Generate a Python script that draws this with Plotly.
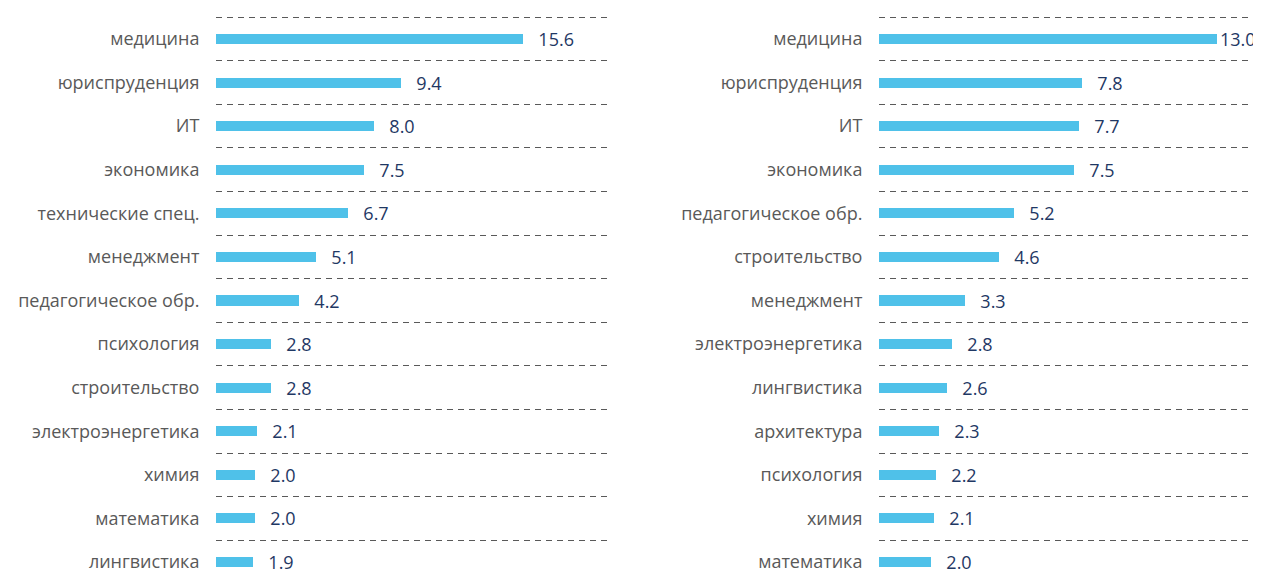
import plotly.graph_objects as go

left_categories = ["медицина", "юриспруденция", "ИТ", "экономика", "технические спец.",
                   "менеджмент", "педагогическое обр.", "психология", "строительство",
                   "электроэнергетика", "химия", "математика", "лингвистика"]
left_values = [15.6, 9.4, 8.0, 7.5, 6.7, 5.1, 4.2, 2.8, 2.8, 2.1, 2.0, 2.0, 1.9]

right_categories = ["медицина", "юриспруденция", "ИТ", "экономика", "педагогическое обр.",
                    "строительство", "менеджмент", "электроэнергетика", "лингвистика",
                    "архитектура", "психология", "химия", "математика"]
right_values = [13.0, 7.8, 7.7, 7.5, 5.2, 4.6, 3.3, 2.8, 2.6, 2.3, 2.2, 2.1, 2.0]

BAR = "#4FC1E9"
LABEL = "#595959"
VALUE = "#1F3864"
FONT = "Open Sans"

W, H = 1253, 571

fig = go.Figure()

for vals, xa, ya, xmax in [(left_values, "x", "y", 20), (right_values, "x2", "y2", 14.58)]:
    pos = list(range(len(vals)))
    # narrower gap when the label would run past the edge of the panel
    texts = [("" if v > 0.85 * xmax else "  \u2009") + f"{v:.1f}" for v in vals]
    fig.add_trace(go.Bar(
        x=vals, y=pos, orientation="h", xaxis=xa, yaxis=ya,
        marker=dict(color=BAR, line=dict(width=0)),
        width=0.23,
        text=texts,
        textposition="outside", cliponaxis=False, constraintext="none",
        textfont=dict(family=FONT, size=18, color=VALUE),
        hoverinfo="skip",
    ))

def yaxis_cfg(cats):
    return dict(
        range=[12.39, -0.711], tickmode="array",
        tickvals=list(range(len(cats))), ticktext=cats,
        showgrid=False, zeroline=False, showline=False,
        ticks="outside", ticklen=12, tickcolor="rgba(0,0,0,0)",
        tickfont=dict(family=FONT, size=18, color=LABEL),
        minor=dict(tick0=0.5, dtick=1, showgrid=True, gridcolor="#595959",
                   griddash="6px,5px", gridwidth=1, ticks=""),
        fixedrange=True,
    )

fig.update_layout(
    width=W, height=H,
    margin=dict(l=0, r=0, t=0, b=0),
    paper_bgcolor="white", plot_bgcolor="white",
    showlegend=False,
    bargap=0,
    xaxis=dict(domain=[208/W, 602/W], range=[0, 20], visible=False, fixedrange=True),
    xaxis2=dict(domain=[871/W, 1250/W], range=[0, 14.58], visible=False, fixedrange=True),
    yaxis=dict(anchor="x", **yaxis_cfg(left_categories)),
    yaxis2=dict(anchor="x2", **yaxis_cfg(right_categories)),
)

fig.write_html("out.html", config={"displayModeBar": False})
